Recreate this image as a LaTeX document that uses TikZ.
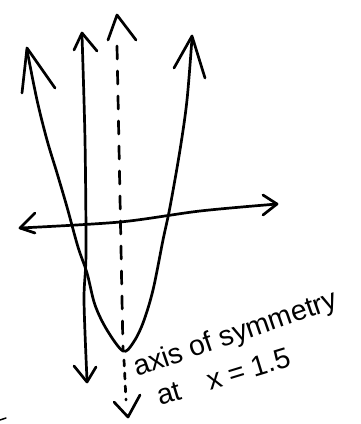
\documentclass[tikz,border=0pt]{standalone}
\usepackage{fontspec}
\setmainfont{Liberation Sans}
\begin{document}
\begin{tikzpicture}[x=1pt,y=-1pt,
  ink/.style={line width=2.7pt, line cap=round, line join=round, black},
  dashink/.style={ink, dash pattern=on 13pt off 12pt},
  note/.style={font=\fontsize{28.5}{31}\selectfont, inner sep=0pt}]
\useasboundingbox (0,0) rectangle (360,424);
% parabola
\draw[ink] plot[smooth, tension=0.55] coordinates {
  (27,50) (37,100) (47,140) (57,173) (67,207) (78,247) (87,273) (95,305)
  (107,330) (123,351) (133,343) (143,323) (153,290) (163,240) (170,207)
  (180,150) (187,100) (192,38)};
\draw[ink] (22,93) -- (27,48) -- (55,88);
\draw[ink] (174,68) -- (192,36) -- (205,78);
% y-axis
\draw[ink] plot[smooth] coordinates {(82,35) (85,140) (86,253) (84,300) (87,380)};
\draw[ink] (74,50) -- (82,33) -- (97,51);
\draw[ink] (74,366) -- (87,382) -- (96,367);
% x-axis
\draw[ink] plot[smooth] coordinates {(20,228) (120,222) (200,211) (277,204)};
\draw[ink] (35,213) -- (20,228) -- (35,233);
\draw[ink] (263,195) -- (277,204) -- (263,215);
% axis of symmetry (dashed)
\draw[dashink] (117,46) -- (123,350);
\draw[ink, dash pattern=on 6pt off 7pt] (124,360) -- (126,400);
\draw[ink] (108,40) -- (117,15) -- (136,40);
\draw[ink] (114,402) -- (128,417) -- (140,395);
% labels
\node[note, rotate=19, anchor=base west] (lab1) at (137,377) {axis of symmetry};
\node[note, rotate=17, anchor=base west] (lab2) at (160,406) {at\quad x = 1.5};
% small stray mark
\draw[ink, line width=1.5pt] (0,420) -- (6,418);
\end{tikzpicture}
\end{document}
